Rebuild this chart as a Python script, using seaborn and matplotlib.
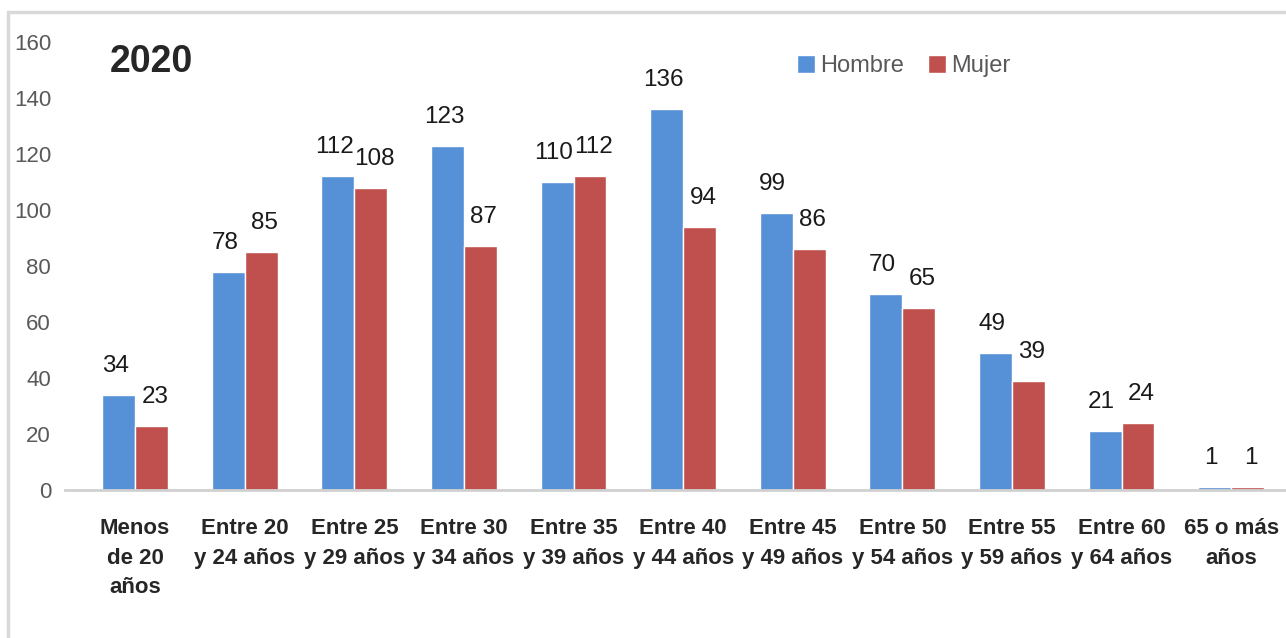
import numpy as np
import pandas as pd
import matplotlib
matplotlib.use("Agg")
import matplotlib.pyplot as plt
import seaborn as sns
from matplotlib.patches import Rectangle

# data
categories = ["Menos\nde 20\naños", "Entre 20\ny 24 años", "Entre 25\ny 29 años",
              "Entre 30\ny 34 años", "Entre 35\ny 39 años", "Entre 40\ny 44 años",
              "Entre 45\ny 49 años", "Entre 50\ny 54 años", "Entre 55\ny 59 años",
              "Entre 60\ny 64 años", "65 o más\naños"]
hombre = [34, 78, 112, 123, 110, 136, 99, 70, 49, 21, 1]
mujer = [23, 85, 108, 87, 112, 94, 86, 65, 39, 24, 1]
series = ["Hombre", "Mujer"]
colors = ["#5690D6", "#C0504D"]

df = pd.DataFrame({
    "grupo": categories * 2,
    "sexo": ["Hombre"] * len(hombre) + ["Mujer"] * len(mujer),
    "valor": hombre + mujer,
})

sns.set_style("white")
plt.rcParams["font.family"] = ["Liberation Sans", "DejaVu Sans"]

fig = plt.figure(figsize=(12.86, 6.38), dpi=100)
ax = fig.add_axes([0.0505, 0.232, 0.9495, 0.702])

sns.barplot(data=df, x="grupo", y="valor", hue="sexo", hue_order=series,
            palette=colors, width=0.6, gap=0, ax=ax, saturation=1)

# value labels, nudged apart a little so neighbours don't collide
for cont, dx in zip(ax.containers, [-2.5, 2.5]):
    anns = ax.bar_label(cont, padding=13, fontsize=17.5, color="#1A1A1A")
    for a in anns:
        a.xyann = (dx, a.xyann[1])

ax.set_ylim(0, 160)
ax.set_xlim(-0.64, 10.5)
ax.set_yticks(np.arange(0, 161, 20))
ax.tick_params(axis="y", labelsize=16, labelcolor="#595959", length=0, pad=10)
ax.tick_params(axis="x", length=0, pad=20)
for lab in ax.get_xticklabels():
    lab.set_fontweight("bold")
    lab.set_fontsize(16)
    lab.set_linespacing(1.55)
ax.set_xlabel("")
ax.set_ylabel("")

for side in ["top", "right", "left"]:
    ax.spines[side].set_visible(False)
ax.spines["bottom"].set_color("#D0D0D0")
ax.spines["bottom"].set_linewidth(2)

ax.text(0.037, 0.955, "2020", transform=ax.transAxes, fontsize=27,
        fontweight="bold", va="center", ha="left")

ax.legend(loc="center left", bbox_to_anchor=(0.582, 0.946), ncol=2, frameon=False,
          fontsize=17, handlelength=0.75, handleheight=0.75, handletextpad=0.25,
          columnspacing=1.0, labelcolor="#595959")

fig.patches.append(Rectangle((8 / 1286, -0.01), 1.0, 1 - 12 / 638 + 0.01,
                             transform=fig.transFigure, fill=False,
                             edgecolor="#D9D9D9", linewidth=2.5))

fig.savefig("out.png", dpi=100)
